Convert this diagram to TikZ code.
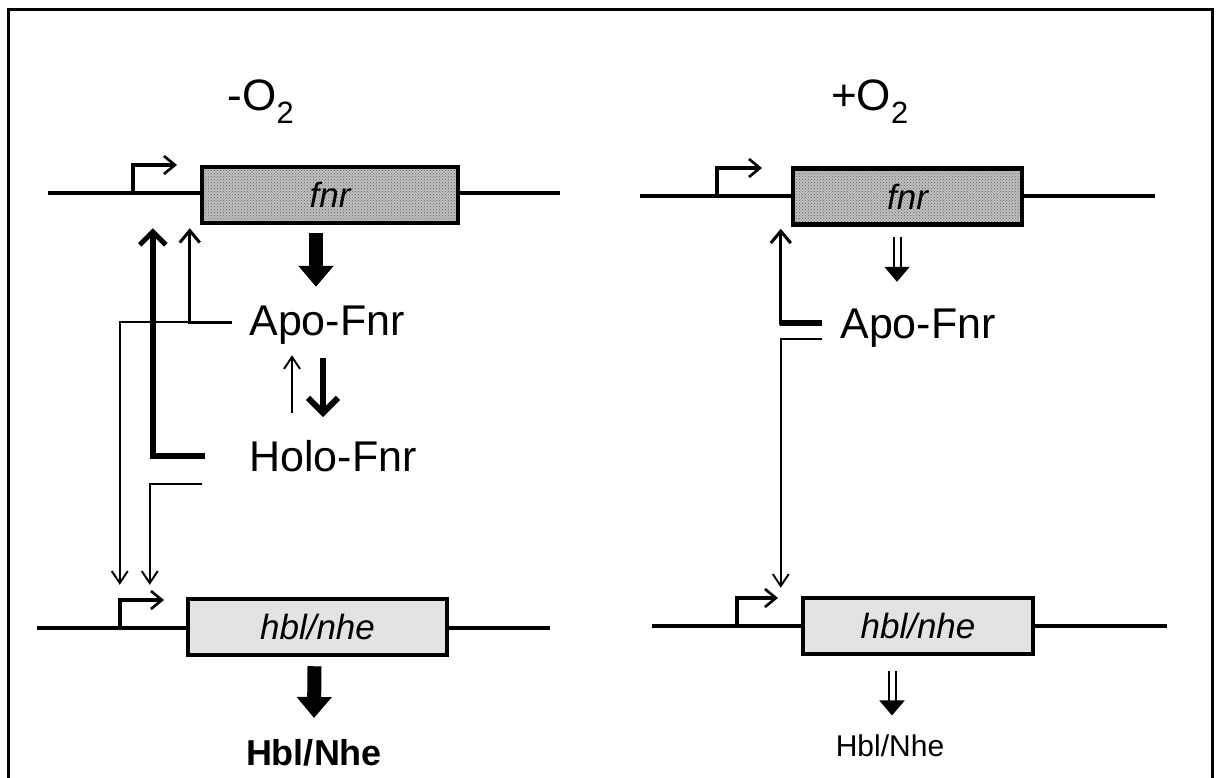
\documentclass[tikz,border=0pt]{standalone}
\usepackage{fontspec}
\setmainfont{Liberation Sans}
\usetikzlibrary{arrows.meta,patterns,calc}

\tikzset{
  dna/.style={line width=3.6pt},
  genebox/.style={draw, line width=4.5pt, minimum height=56pt, inner sep=0pt,
    font=\fontsize{35}{35}\selectfont\itshape},
  fnrbox/.style={genebox, preaction={fill=gray!50}, pattern=crosshatch dots, pattern color=black!60},
  hblbox/.style={genebox, fill=gray!22},
  lbl/.style={font=\fontsize{43}{43}\selectfont, text height=31pt, text depth=9pt, inner sep=3pt},
  title/.style={font=\fontsize{44}{44}\selectfont},
  prom/.style={line width=3.2pt, -{Straight Barb[length=11pt, width=18pt, line width=2.6pt]}},
  thinarr/.style={line width=1.7pt, -{Straight Barb[length=12pt, width=16pt, line width=1.9pt]}},
  medarr/.style={line width=3pt, -{Straight Barb[length=12pt, width=20pt, line width=3pt]}},
  thickarr/.style={line width=5.5pt, -{Straight Barb[length=13pt, width=26pt, line width=5pt]}},
  eqarr/.style={line width=5.5pt, -{Straight Barb[length=15pt, width=30pt, line width=6pt]}},
  block/.style={line width=14pt, -{Triangle[length=21pt, width=34pt]}},
  hollow/.style={line width=2pt, double distance=5pt, -{Triangle[length=15pt, width=25pt]}}
}

\begin{document}
\begin{tikzpicture}[x=1pt, y=-1pt]
\useasboundingbox (0,0) rectangle (1217,778);
% frame
\draw[line width=3pt] (8,778) -- (8,10) -- (1212,10) -- (1212,778);

% left panel: -O2
\begin{scope}
  \node[title] (titleL) at (261,102) {-O\textsubscript{2}};
  % fnr gene
  \draw[dna] (48,193) coordinate (dnaLa) -- (560,193) coordinate (dnaLb);
  \draw[prom] (133,193) -- (133,165) -- (177,165);
  \node[fnrbox, minimum width=256pt] (fnrL) at (330,195) {fnr};
  % regulators
  \node[lbl] (apoL) at (327,324) {Apo-Fnr};
  \node[lbl] (holoL) at (333,460) {Holo-Fnr};
  \draw[block] ($(apoL.north |- fnrL.south)+(-11,8)$) -- ($(apoL.north)+(-11,-14)$);
  \draw[thinarr] ($(apoL.south)+(-35,66)$) -- ($(apoL.south)+(-35,8)$);
  \draw[eqarr] ($(apoL.south)+(-4,11)$) -- ($(apoL.south)+(-4,70)$);
  % activation of fnr
  \draw[thickarr] ($(holoL.west)+(-41,-4)$) -| ($(fnrL.south west)+(-47,3)$);
  \draw[medarr] ($(apoL.west)+(-14,-2)$) -| ($(fnrL.south west)+(-10,3)$);
  % hbl/nhe gene
  \draw[dna] (37,628) coordinate (dnaLc) -- (550,628) coordinate (dnaLd);
  \draw[prom] (120,628) -- (120,600) -- (164,600);
  \node[hblbox, minimum width=259pt] (hblL) at (317.5,627) {hbl/nhe};
  \draw[thinarr] ($(apoL.west)+(-54.5,-2)$) -| ($(hblL.north west)+(-66,-12)$);
  \draw[thinarr] ($(holoL.south west)+(-44,1)$) -| ($(hblL.north west)+(-36,-12)$);
  % product
  \node[font=\fontsize{36}{36}\selectfont\bfseries, text height=26pt, text depth=7pt] (prodL) at (314,756) {Hbl/Nhe};
  \draw[block] ($(hblL.south)+(-3,9)$) -- ($(prodL.north)+(0,-18)$);
\end{scope}

% right panel: +O2
\begin{scope}
  \node[title] (titleR) at (870,102) {+O\textsubscript{2}};
  % fnr gene
  \draw[dna] (640,196) coordinate (dnaRa) -- (1155,196) coordinate (dnaRb);
  \draw[prom] (717,196) -- (717,168) -- (762,168);
  \node[fnrbox, minimum width=229pt] (fnrR) at (907.5,196.5) {fnr};
  \node[lbl] (apoR) at (918,327) {Apo-Fnr};
  \draw[hollow] ($(apoR.north |- fnrR.south)+(-21,10)$) -- ($(apoR.north)+(-21,-22)$);
  % weak activation
  \draw[medarr] ($(apoR.west)+(-15,-4)$) -| ($(fnrR.south west)+(-10,2)$);
  \draw[line width=6.5pt] ($(apoR.west)+(-15,-4)$) -- ++(-42,0);
  % hbl/nhe gene
  \draw[dna] (652,626) coordinate (dnaRc) -- (1167,626) coordinate (dnaRd);
  \draw[prom] (737,626) -- (737,598) -- (778,598);
  \node[hblbox, minimum width=230pt] (hblR) at (918,626) {hbl/nhe};
  \draw[thinarr] ($(apoR.west)+(-15,12)$) -| ($(hblR.north west)+(-20,-8)$);
  % product
  \node[font=\fontsize{30}{30}\selectfont, text height=22pt, text depth=6pt] (prodR) at (890,748) {Hbl/Nhe};
  \draw[hollow] ($(hblR.south)+(-26,15)$) -- ($(prodR.north)+(2,-15)$);
\end{scope}
\end{tikzpicture}
\end{document}
